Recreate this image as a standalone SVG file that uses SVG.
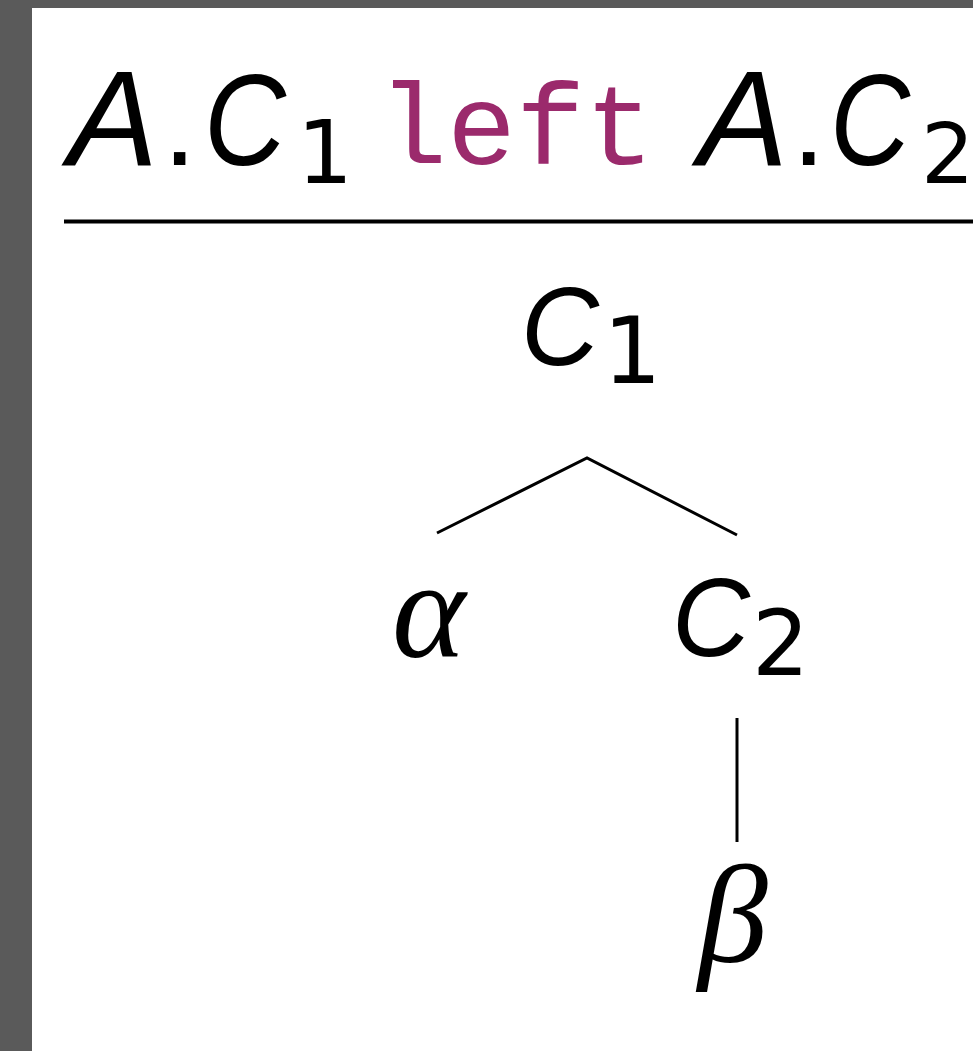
<svg xmlns="http://www.w3.org/2000/svg" width="973" height="1051" viewBox="0 0 973 1051">
<style>
.m{font-family:"Liberation Sans",Arial,sans-serif;font-style:italic;fill:#000}
.d{font-family:"DejaVu Sans","Liberation Sans",sans-serif;fill:#000}
.r{font-family:"Liberation Sans",Arial,sans-serif;fill:#000}
.g{font-family:"Liberation Serif","DejaVu Serif",serif;font-style:italic;fill:#000}
.tt{font-family:"Liberation Mono","DejaVu Sans Mono",monospace;fill:#9b2a6c}
.edge{stroke:#000;stroke-width:3;fill:none}
</style>
<rect width="973" height="1051" fill="#5a5a5a"/>
<rect x="32" y="8" width="941" height="1043" fill="#fff"/>
<g id="conclusion">
<text class="m" x="68" y="165" font-size="135">A</text>
<text class="r" x="163" y="165" font-size="120">.</text>
<text class="m" x="204" y="165" font-size="130" textLength="82" lengthAdjust="spacingAndGlyphs">C</text>
<text class="d" x="297" y="183" font-size="88">1</text>
<text class="tt" x="378" y="164" font-size="115">left</text>
<text class="m" x="698" y="165" font-size="135">A</text>
<text class="r" x="792" y="165" font-size="120">.</text>
<text class="m" x="830" y="165" font-size="130" textLength="80" lengthAdjust="spacingAndGlyphs">C</text>
<text class="d" x="921" y="183" font-size="84">2</text>
</g>
<line x1="64" y1="221.5" x2="973" y2="221.5" stroke="#000" stroke-width="4"/>
<g id="n-c1">
<text class="m" x="521" y="365" font-size="112" textLength="78" lengthAdjust="spacingAndGlyphs">C</text>
<text class="d" x="603" y="383" font-size="92">1</text>
</g>
<g id="n-alpha">
<text class="g" x="392" y="657" font-size="140">α</text>
</g>
<g id="n-c2">
<text class="m" x="672" y="656" font-size="112" textLength="78" lengthAdjust="spacingAndGlyphs">C</text>
<text class="d" x="752" y="675" font-size="90">2</text>
</g>
<g id="n-beta">
<text class="g" x="698" y="962" font-size="140">β</text>
</g>
<g id="connectors">
<polyline class="edge" points="437,533 587,458 737,535"/>
<line class="edge" x1="737" y1="718" x2="737" y2="842" stroke-width="4"/>
</g>
</svg>
